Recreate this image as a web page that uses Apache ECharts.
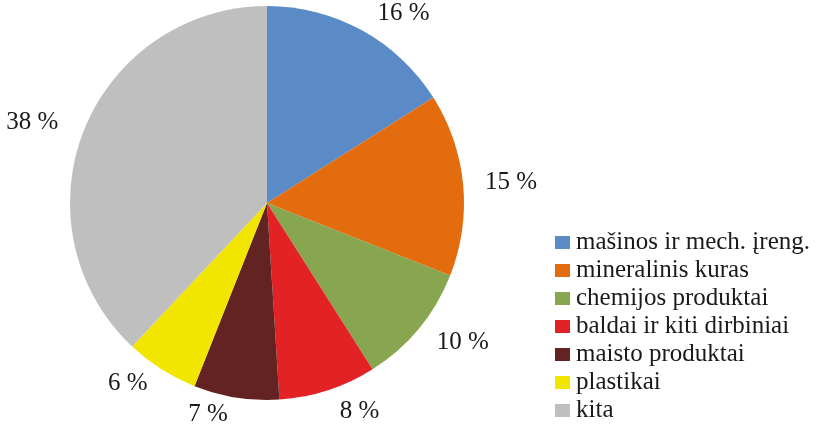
<!DOCTYPE html>
<html><head><meta charset="utf-8">
<script src="https://cdn.jsdelivr.net/npm/echarts@6/dist/echarts.min.js"></script>
<style>html,body{margin:0;padding:0;background:#fff}#c{width:836px;height:428px}</style>
</head><body><div id="c"></div>
<script>
const categories = ['mašinos ir mech. įreng.', 'mineralinis kuras', 'chemijos produktai', 'baldai ir kiti dirbiniai', 'maisto produktai', 'plastikai', 'kita'];
const values = [16, 15, 10, 8, 7, 6, 38];
const colors = ['#5A8BC6', '#E36C0F', '#87A64F', '#E32226', '#622322', '#F2E600', '#BFBFBF'];

const chart = echarts.init(document.getElementById('c'));
chart.setOption({
  animation: false,
  color: colors,
  legend: {
    orient: 'vertical',
    left: 555,
    top: 230,
    height: 198,
    icon: 'rect',
    itemWidth: 15,
    itemHeight: 13,
    itemGap: 3,
    padding: 0,
    data: categories,
    textStyle: {fontFamily: 'Liberation Serif', fontSize: 25, lineHeight: 25, color: '#1a1a1a', padding: [0,0,0,1]}
  },
  series: [{
    type: 'pie',
    center: [267, 203],
    radius: 197,
    startAngle: 90,
    clockwise: true,
    data: categories.map((n, i) => ({name: n, value: values[i]})),
    label: {
      show: true,
      position: 'outside',
      formatter: p => p.value + ' %',
      fontFamily: 'Liberation Serif',
      fontSize: 25,
      color: '#1a1a1a',
      overflow: 'none',
      edgeDistance: 0
    },
    labelLine: {show: false, length: 22, length2: 0},
    itemStyle: {borderWidth: 0}
  }]
});
</script></body></html>
